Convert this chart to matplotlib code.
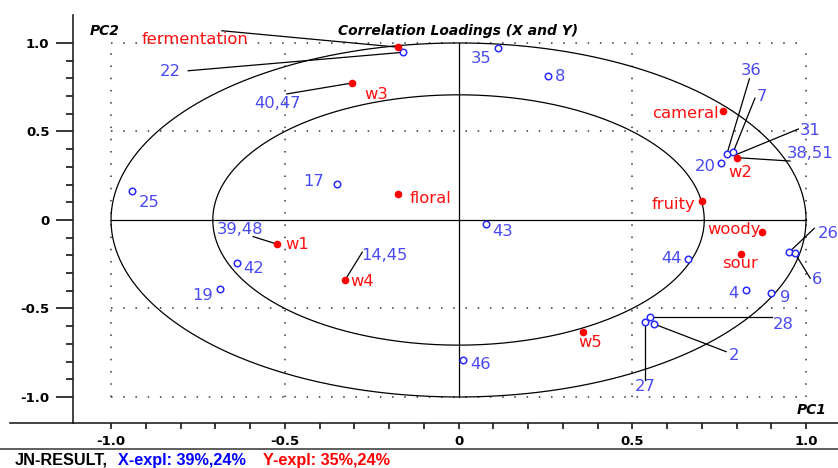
import numpy as np
import matplotlib
matplotlib.use("Agg")
import matplotlib.pyplot as plt
from matplotlib.lines import Line2D

# Datos: cargas de correlación (PC1, PC2)
y_names = ["fermentation", "w3", "floral", "cameral", "w2", "fruity",
           "woody", "sour", "w5", "w1", "w4"]
y_pc1 = [-0.173, -0.306, -0.175, 0.760, 0.802, 0.701, 0.874, 0.813, 0.357, -0.523, -0.327]
y_pc2 = [0.976, 0.774, 0.147, 0.616, 0.352, 0.107, -0.070, -0.194, -0.631, -0.136, -0.341]
y_lab_x = [-0.757, -0.237, -0.082, 0.652, 0.810, 0.618, 0.793, 0.810, 0.378, -0.465, -0.277]
y_lab_y = [1.021, 0.710, 0.119, 0.603, 0.267, 0.090, -0.051, -0.245, -0.693, -0.141, -0.349]

x_names = ["22", "35", "8", "25", "17", "40,47", "36", "7", "31", "38,51", "20",
           "43", "26", "6", "44", "4", "9", "28", "2", "27", "46", "39,48",
           "42", "19", "14,45"]
x_pc1 = [-0.161, 0.113, 0.257, -0.940, -0.349, -0.306, 0.772, 0.791, 0.796, 0.802, 0.755,
         0.078, 0.951, 0.968, 0.659, 0.826, 0.899, 0.551, 0.563, 0.537, 0.012, -0.523,
         -0.638, -0.686, -0.327]
x_pc2 = [0.947, 0.970, 0.814, 0.166, 0.201, 0.774, 0.371, 0.386, 0.367, 0.352, 0.324,
         -0.024, -0.182, -0.188, -0.220, -0.394, -0.411, -0.546, -0.588, -0.578, -0.789, -0.136,
         -0.241, -0.392, -0.341]
x_lab_x = [-0.830, 0.066, 0.292, -0.889, -0.416, -0.521, 0.841, 0.873, 1.013, 1.012, 0.709,
           0.126, 1.063, 1.031, 0.612, 0.790, 0.940, 0.935, 0.792, 0.538, 0.064, -0.629,
           -0.589, -0.736, -0.212]
x_lab_y = [0.838, 0.914, 0.808, 0.098, 0.215, 0.659, 0.847, 0.697, 0.508, 0.373, 0.301,
           -0.066, -0.075, -0.335, -0.220, -0.414, -0.437, -0.588, -0.763, -0.942, -0.814, -0.056,
           -0.273, -0.428, -0.202]
# inicio de la línea guía
x_lead = {"22": (-0.778, 0.843), "40,47": (-0.494, 0.712), "36": (0.837, 0.797),
          "7": (0.853, 0.688), "31": (0.978, 0.514), "38,51": (0.954, 0.333),
          "26": (1.024, -0.047), "6": (1.012, -0.329), "28": (0.901, -0.546),
          "2": (0.770, -0.744), "27": (0.537, -0.904), "39,48": (-0.591, -0.094),
          "14,45": (-0.277, -0.182)}
y_lead = {"fermentation": (-0.681, 1.069)}
hidden = ["40,47", "31", "38,51", "39,48", "14,45"]

azul = "#4a4af2"
rojo = "#ff1010"

fig = plt.figure(figsize=(8.38, 4.68), dpi=100)
ax = fig.add_axes([73 / 838, 1 - 423 / 468, 1 - 73 / 838, (423 - 15) / 468])
ax.set_xlim(-1.1094, 1.092)
ax.set_ylim(-1.147, 1.158)

# elipses (radio 1 y sqrt(0.5))
th = np.linspace(0, 2 * np.pi, 400)
for r in [1.0, np.sqrt(0.5)]:
    ax.plot(r * np.cos(th), r * np.sin(th), color="black", lw=0.9, zorder=2)

# rejilla punteada
for v in [-1.0, -0.5, 0.5, 1.0]:
    ax.plot([v, v], [-1, 1], color="#333333", lw=1.1, ls=(0, (1, 7)), zorder=1)
    ax.plot([-1, 1], [v, v], color="#333333", lw=1.1, ls=(0, (1, 7)), zorder=1)
ax.plot([0, 0], [-1, 1], color="black", lw=0.9, zorder=2)
ax.plot([-1, 1], [0, 0], color="black", lw=0.9, zorder=2)

# líneas guía
for i, n in enumerate(x_names):
    if n in x_lead:
        sx, sy = x_lead[n]
        ax.plot([sx, x_pc1[i]], [sy, x_pc2[i]], color="black", lw=0.9, zorder=3)
for i, n in enumerate(y_names):
    if n in y_lead:
        sx, sy = y_lead[n]
        ax.plot([sx, y_pc1[i]], [sy, y_pc2[i]], color="black", lw=0.9, zorder=3)

# puntos X (círculos huecos)
vis = [n not in hidden for n in x_names]
ax.scatter(np.array(x_pc1)[vis], np.array(x_pc2)[vis], s=22, facecolors="white",
           edgecolors="#2a2aff", linewidths=1.1, zorder=4)
# puntos Y (rellenos)
ax.scatter(y_pc1, y_pc2, s=20, color="red", zorder=5)

for i, n in enumerate(x_names):
    ax.text(x_lab_x[i], x_lab_y[i], n, color=azul, fontsize=11.8,
            ha="center", va="center", zorder=6)
for i, n in enumerate(y_names):
    ax.text(y_lab_x[i], y_lab_y[i], n, color=rojo, fontsize=11.8,
            ha="center", va="center", zorder=6)

ax.text(0, 1.07, "Correlation Loadings (X and Y)", fontsize=10, fontweight="bold",
        style="italic", ha="center", va="center")
ax.text(-1.019, 1.07, "PC2", fontsize=10, fontweight="bold", style="italic",
        ha="center", va="center")
ax.text(1.017, -1.073, "PC1", fontsize=10, fontweight="bold", style="italic",
        ha="center", va="center")

# ejes
ax.spines["top"].set_visible(False)
ax.spines["right"].set_visible(False)
for s in ["left", "bottom"]:
    ax.spines[s].set_linewidth(1.2)
    ax.spines[s].set_color("#222222")
ticks = [-1.0, -0.5, 0, 0.5, 1.0]
labels = ["-1.0", "-0.5", "0", "0.5", "1.0"]
ax.set_xticks(ticks)
ax.set_xticklabels(labels)
ax.set_yticks(ticks)
ax.set_yticklabels(labels)
minor = [round(v, 1) for v in np.arange(-0.9, 0.95, 0.1)]
ax.set_xticks(minor, minor=True)
ax.set_yticks(minor, minor=True)
ax.tick_params(axis="y", which="major", length=12, width=1.1, pad=5, labelsize=9.5)
ax.tick_params(axis="y", which="minor", length=5, width=1.1)
ax.tick_params(axis="x", which="both", length=4.5, width=1.1, pad=4, labelsize=9.5)
for lb in ax.get_xticklabels() + ax.get_yticklabels():
    lb.set_fontweight("bold")

# línea inferior extendida y separador
fig.add_artist(Line2D([10 / 838, 73 / 838], [1 - 423 / 468] * 2, color="#222222", lw=1.2))
fig.add_artist(Line2D([0, 1], [1 - 449 / 468] * 2, color="#444444", lw=1.2))

yf = 1 - 460 / 468
pie = dict(fontsize=11.7, fontweight="bold", family="Liberation Sans", va="center")
fig.text(15 / 838, yf, "JN-RESULT,", color="black", **pie)
fig.text(118 / 838, yf, "X-expl: 39%,24%", color="blue", **pie)
fig.text(263 / 838, yf, "Y-expl: 35%,24%", color="red", **pie)

fig.savefig("out.png", dpi=100)
